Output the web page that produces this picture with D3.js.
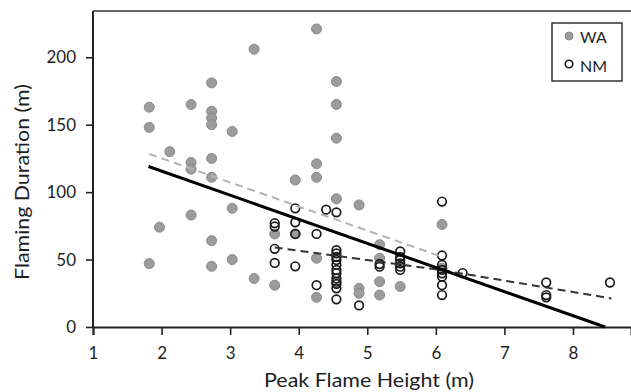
<!DOCTYPE html>
<html>
<head>
<meta charset="utf-8">
<script src="https://cdn.jsdelivr.net/npm/d3@7"></script>
<style>
  body { margin: 0; background: #fff; }
  text { font-family: Lato, "Open Sans", sans-serif; fill: #1e1e1e; }
</style>
</head>
<body>
<div id="chart"></div>
<script>
// WA points (filled grey)
const waX = [1.82, 1.82, 1.82, 1.97, 2.12, 2.43, 2.43, 2.43, 2.43,
  2.73, 2.73, 2.73, 2.73, 2.73, 2.73, 2.73, 2.73, 3.03, 3.03, 3.03,
  3.35, 3.35, 3.65, 3.65, 3.95, 3.95, 4.26, 4.26, 4.26, 4.26, 4.26,
  4.55, 4.55, 4.55, 4.55, 4.88, 4.88, 4.88, 5.18, 5.18, 5.18, 5.18,
  5.48, 6.09, 6.09];
const waY = [163, 148, 47, 74, 130, 165, 122, 117, 83,
  181, 160, 155, 150, 125, 111, 64, 45, 145, 88, 50,
  206, 36, 69, 31, 109, 69, 221, 121, 111, 51, 22,
  182, 165, 140, 95, 90.5, 28.7, 25, 61, 51, 33.6, 23.7,
  30, 76, 43.5];

// NM points (open)
const nmX = [3.65, 3.65, 3.65, 3.65, 3.95, 3.95, 3.95, 3.95, 4.26, 4.26, 4.4,
  4.55, 4.55, 4.55, 4.55, 4.55, 4.55, 4.55, 4.55, 4.55, 4.55, 4.55, 4.55, 4.55,
  4.88, 5.18, 5.18, 5.48, 5.48, 5.48, 5.48, 5.48, 5.48,
  6.09, 6.09, 6.09, 6.09, 6.09, 6.09, 6.09, 6.09, 6.39, 7.61, 7.61, 7.61, 8.54];
const nmY = [77, 74.5, 58, 47.5, 88, 77.6, 69, 45, 69, 31, 87,
  85, 57, 54.6, 52, 49.7, 46, 42.3, 39.8, 36, 33.6, 32, 28.7, 20.5,
  16, 46.7, 44.7, 56, 52, 49.7, 47.2, 44.7, 42.3,
  93, 53, 46, 42.3, 39.8, 37.3, 31, 23.7, 40, 33, 23.7, 22, 33];

// fitted lines
const allFit = [[1.81, 119], [8.47, 0]];
const waFit = [[1.82, 128.3], [6.09, 52]];
const nmFit = [[3.65, 59], [6.1, 42], [8.56, 21.2]];

const xTicks = [1, 2, 3, 4, 5, 6, 7, 8];
const yTicks = [0, 50, 100, 150, 200];

const width = 631, height = 392;
const margin = { top: 11, left: 93, bottom: 65, right: 0 };

const svg = d3.select("#chart").append("svg")
  .attr("width", width)
  .attr("height", height);

const x = d3.scaleLinear().domain([1, 8.846]).range([margin.left, width - margin.right]);
const y = d3.scaleLinear().domain([0, 234.3]).range([height - margin.bottom, margin.top]);

// top frame
svg.append("line")
  .attr("x1", margin.left).attr("x2", width)
  .attr("y1", margin.top).attr("y2", margin.top)
  .attr("stroke", "#666").attr("stroke-width", 2);

const xAxis = svg.append("g")
  .attr("transform", `translate(0, ${y(0)})`)
  .call(d3.axisBottom(x).tickValues(xTicks).tickSizeOuter(0).tickSize(8).tickPadding(12));

const yAxis = svg.append("g")
  .attr("transform", `translate(${margin.left}, 0)`)
  .call(d3.axisLeft(y).tickValues(yTicks).tickSizeOuter(0).tickSize(7).tickPadding(10));

[xAxis, yAxis].forEach(a => {
  a.select(".domain").attr("stroke", "#222").attr("stroke-width", 2);
  a.selectAll(".tick line").attr("stroke", "#222").attr("stroke-width", 1.6);
  a.selectAll(".tick text").style("font-size", "17px").attr("fill", "#1e1e1e");
});
yAxis.select(".domain").attr("d", `M0,${margin.top}V${y(0)}`);

const waData = waX.map((d, i) => [d, waY[i]]);
const nmData = nmX.map((d, i) => [d, nmY[i]]);

svg.append("g")
  .selectAll("circle")
  .data(waData)
  .enter()
  .append("circle")
  .attr("cx", d => x(d[0]))
  .attr("cy", d => y(d[1]))
  .attr("r", 5)
  .attr("fill", "#9c9c9c")
  .attr("stroke", "#888")
  .attr("stroke-width", 1);

svg.append("g")
  .selectAll("circle")
  .data(nmData)
  .enter()
  .append("circle")
  .attr("cx", d => x(d[0]))
  .attr("cy", d => y(d[1]))
  .attr("r", 4.3)
  .attr("fill", "none")
  .attr("stroke", "#1a1a1a")
  .attr("stroke-width", 1.7);

const line = d3.line().x(d => x(d[0])).y(d => y(d[1]));

svg.append("path").datum(waFit)
  .attr("d", line).attr("fill", "none")
  .attr("stroke", "#b4b4b4").attr("stroke-width", 2)
  .attr("stroke-dasharray", "8,5");

svg.append("path").datum(nmFit)
  .attr("d", line).attr("fill", "none")
  .attr("stroke", "#333").attr("stroke-width", 2)
  .attr("stroke-dasharray", "8,5");

svg.append("path").datum(allFit)
  .attr("d", line).attr("fill", "none")
  .attr("stroke", "#000").attr("stroke-width", 3);

// legend
const lg = svg.append("g").attr("transform", "translate(552, 23)");
lg.append("rect")
  .attr("width", 70).attr("height", 58)
  .attr("fill", "#fff").attr("stroke", "#333").attr("stroke-width", 1.5);
lg.append("circle").attr("cx", 17).attr("cy", 13).attr("r", 4)
  .attr("fill", "#9c9c9c").attr("stroke", "#888");
lg.append("circle").attr("cx", 17).attr("cy", 41).attr("r", 3.8)
  .attr("fill", "none").attr("stroke", "#1a1a1a").attr("stroke-width", 1.6);
lg.append("text").attr("x", 28).attr("y", 20).style("font-size", "16px").text("WA");
lg.append("text").attr("x", 28).attr("y", 49).style("font-size", "16px").text("NM");

// axis titles
svg.append("text")
  .attr("x", 369).attr("y", 387)
  .attr("text-anchor", "middle")
  .attr("textLength", 210).attr("lengthAdjust", "spacingAndGlyphs")
  .style("font-size", "19px")
  .text("Peak Flame Height (m)");

svg.append("text")
  .attr("transform", "translate(29, 182) rotate(-90)")
  .attr("text-anchor", "middle")
  .attr("textLength", 196).attr("lengthAdjust", "spacingAndGlyphs")
  .style("font-size", "19px")
  .text("Flaming Duration (m)");
</script>
</body>
</html>
